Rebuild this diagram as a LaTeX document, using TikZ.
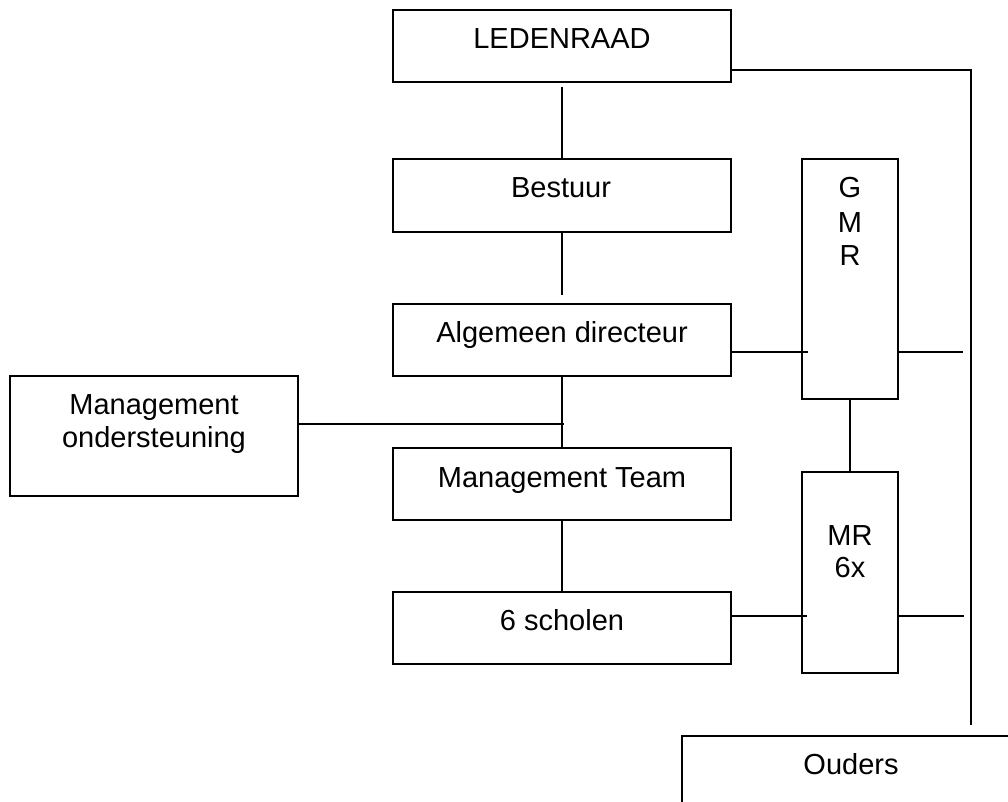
\documentclass[tikz,border=0pt]{standalone}
\usepackage{fontspec}
\setmainfont{Liberation Sans}
\begin{document}
\begin{tikzpicture}[x=1pt,y=-1pt,
  box/.style={draw=black,line width=1.4pt,rectangle,inner sep=0pt,outer sep=0pt},
  lbl/.style={anchor=base,inner sep=0pt,font=\fontsize{29pt}{33pt}\selectfont},
  conn/.style={draw=black,line width=1.1pt}]
\useasboundingbox[fill=white] (0,0) rectangle (1008,802);
% boxes
\node[box,minimum width=338pt,minimum height=72pt] (led) at (562,46) {};
\node[box,minimum width=338pt,minimum height=73pt] (bes) at (562,195.5) {};
\node[box,minimum width=338pt,minimum height=72pt] (alg) at (562,340) {};
\node[box,minimum width=338pt,minimum height=72pt] (mt) at (562,484) {};
\node[box,minimum width=338pt,minimum height=72pt] (sch) at (562,628) {};
\node[box,minimum width=96pt,minimum height=240pt] (gmr) at (850,279) {};
\node[box,minimum width=96pt,minimum height=201pt] (mr) at (850,572.5) {};
\node[box,minimum width=288pt,minimum height=120pt] (mo) at (154,436) {};
% texts
\node[lbl] (tled) at (562,48.5) {LEDENRAAD};
\node[lbl] (tbes) at (561,198) {Bestuur};
\node[lbl] (talg) at (562,342) {Algemeen directeur};
\node[lbl] (tmt) at (562,487) {Management Team};
\node[lbl] (tsch) at (562,630) {6 scholen};
\node[lbl] (tg) at (850,198) {G};
\node[lbl] (tm) at (850,233) {M};
\node[lbl] (tr) at (850,265) {R};
\node[lbl] (tmr) at (850,545) {MR};
\node[lbl] (t6x) at (850,577) {6x};
\node[lbl] (tmo1) at (154,414) {Management};
\node[lbl] (tmo2) at (154,447) {ondersteuning};
\node[lbl] (toud) at (851,774) {Ouders};
% Ouders box (cut off by the page edge)
\coordinate (oud) at (682,736);
\coordinate (oudr) at (1010,736);
\coordinate (oudb) at (682,804);
\draw[box] (oudb) -- (oud) -- (oudr);
% connectors
\coordinate (rc1) at (971,70);
\coordinate (rc2) at (971,725);
\draw[conn] (led.east |- rc1) -- (rc1) -- (rc2);
\coordinate (lb1) at (562,87);
\draw[conn] (lb1) -- (bes.north);
\coordinate (ba1) at (562,295);
\draw[conn] (bes.south) -- (ba1);
\draw[conn] (alg.south) -- (mt.north);
\draw[conn] (mt.south) -- (sch.north);
\coordinate (mo1) at (564,424);
\draw[conn] (mo.east |- mo1) -- (mo1);
\coordinate (ag1) at (808,352);
\draw[conn] (alg.east |- ag1) -- (ag1);
\coordinate (gr1) at (963,352);
\draw[conn] (gmr.east |- gr1) -- (gr1);
\draw[conn] (gmr.south) -- (mr.north);
\coordinate (sm1) at (807,616);
\draw[conn] (sch.east |- sm1) -- (sm1);
\coordinate (mr1) at (964,616);
\draw[conn] (mr.east |- mr1) -- (mr1);
\end{tikzpicture}
\end{document}
